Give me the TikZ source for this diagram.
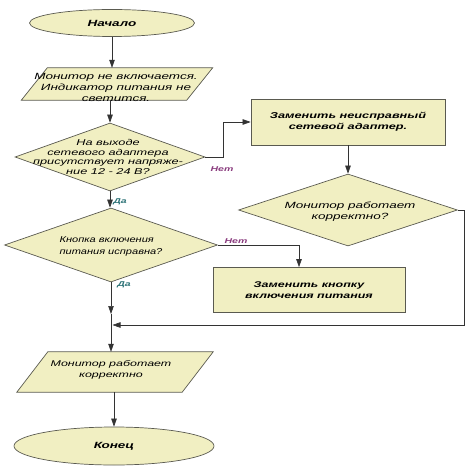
\documentclass[tikz,border=0pt]{standalone}
\usepackage{fontspec}
\setmainfont{Liberation Sans}
\newfontfamily\flowfont[FakeStretch=1.5]{Liberation Sans}
\newfontfamily\narrowfont[FakeStretch=1.3]{Liberation Sans}
\usetikzlibrary{arrows.meta,shapes.geometric,positioning}
\definecolor{flowfill}{HTML}{F1EFC2}
\definecolor{flowedge}{HTML}{5A5A50}
\definecolor{noplum}{HTML}{8A3C7E}
\definecolor{yesteal}{HTML}{2F7478}

\begin{document}
\begin{tikzpicture}[x=1pt,y=-1pt,
  blockbase/.style={draw=flowedge,fill=flowfill,line width=0.7pt,inner sep=0pt},
  term/.style={blockbase,ellipse},
  iobox/.style={rectangle,inner sep=0pt},
  dec/.style={blockbase,diamond},
  act/.style={blockbase,rectangle},
  txt/.style={font=\flowfont\itshape\fontsize{9}{11}\selectfont,align=center,inner sep=0pt},
  bold/.style={font=\flowfont\itshape\bfseries\fontsize{8.5}{11}\selectfont,align=center,inner sep=0pt},
  nolbl/.style={font=\flowfont\itshape\bfseries\fontsize{7}{8}\selectfont,text=noplum,inner sep=0pt},
  yeslbl/.style={font=\flowfont\itshape\bfseries\fontsize{7}{8}\selectfont,text=yesteal,inner sep=0pt},
  arr/.style={draw=black!80,line width=0.6pt,-{Triangle[length=8pt,width=5.5pt]}}]
  \useasboundingbox (0,0) rectangle (468,470);

  % main column
  \node[term,minimum width=165pt,minimum height=27pt] (start) at (112,23) {};
  \node[bold,font=\flowfont\itshape\bfseries\fontsize{9}{11}\selectfont] (startt) at (start) {Начало};
  \node[iobox,minimum width=191pt,minimum height=32pt] (p1) at (117,84) {};
  \draw[blockbase] ([xshift=26pt]p1.north west) -- (p1.north east) -- ([xshift=-26pt]p1.south east) -- (p1.south west) -- cycle;
  \node[txt] (p1t) at (116,87) {Монитор не включается.\\Индикатор питания не\\светится.};
  \node[dec,minimum width=190pt,minimum height=68pt] (d1) at (110,157) {};
  \node[txt,font=\flowfont\itshape\fontsize{8.5}{9.8}\selectfont] (d1t) at (108,157) {На выходе\\сетевого адаптера\\присутствует напряже-\\ние 12 - 24 В?};
  \node[dec,minimum width=213pt,minimum height=74pt] (d2) at (111,245) {};
  \node[txt,font=\narrowfont\itshape\fontsize{8.5}{12}\selectfont,align=left] (d2t) at (111,246) {Кнопка включения\\питания исправна?};
  \coordinate (jt) at (111,314);
  \coordinate (jn) at (111,325);
  \node[iobox,minimum width=196pt,minimum height=40pt] (p2) at (115,372) {};
  \draw[blockbase] ([xshift=31pt]p2.north west) -- (p2.north east) -- ([xshift=-31pt]p2.south east) -- (p2.south west) -- cycle;
  \node[txt,font=\flowfont\itshape\fontsize{8.3}{10.5}\selectfont] (p2t) at (111,370) {Монитор работает\\корректно};
  \node[term,minimum width=200pt,minimum height=38pt] (end) at (114,446) {};
  \node[bold,font=\flowfont\itshape\bfseries\fontsize{9}{11}\selectfont] (endt) at (end) {Конец};

  % right column
  \node[act,minimum width=194pt,minimum height=46pt] (b1) at (348,122) {};
  \node[bold] (b1t) at (b1) {Заменить неисправный\\сетевой адаптер.};
  \node[dec,minimum width=219pt,minimum height=72pt] (d3) at (348,210) {};
  \node[txt] (d3t) at (350,212) {Монитор работает\\корректно?};
  \node[act,minimum width=192pt,minimum height=45pt] (b2) at (309,290) {};
  \node[bold,font=\flowfont\itshape\bfseries\fontsize{8.3}{10.5}\selectfont] (b2t) at (b2) {Заменить кнопку\\включения питания};

  % connectors
  \draw[arr] (start.south) -- (start.south |- p1.north);
  \draw[arr] (p1.south -| d1) -- (d1.north);
  \draw[arr] (d1.south) -- (d2.north -| d1);
  \draw[arr] (d1.east) -- ++(18,0) |- (b1.west);
  \draw[arr] (b1.south) -- (d3.north);
  \draw[arr] (d2.east) -| ([xshift=-10pt]b2.north);
  \draw[arr] (d2.south) -- (jt);
  \draw[arr] (jt) -- (p2.north -| jt);
  \draw[arr] (d3.east) -- ++(6,0) |- ([xshift=1.5pt]jn);
  \draw[arr] (p2.south -| end) -- (end.north);

  % branch labels
  \node[nolbl] (no1) at (222,169) {Нет};
  \node[nolbl] (no2) at (236,241) {Нет};
  \node[yeslbl] (yes1) at (120,202) {Да};
  \node[yeslbl] (yes2) at (124,285) {Да};
\end{tikzpicture}
\end{document}
